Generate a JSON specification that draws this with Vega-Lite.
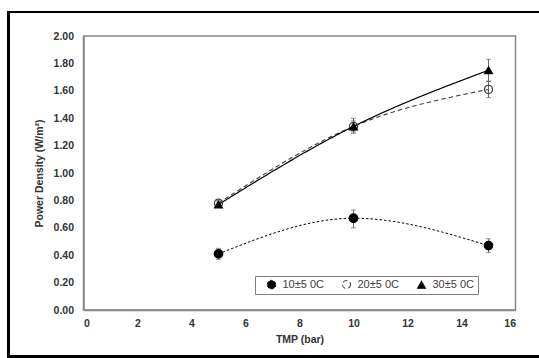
{
  "$schema": "https://vega.github.io/schema/vega-lite/v6.json",
  "width": 432,
  "height": 274,
  "autosize": {"type": "none"},
  "padding": {"left": 83.5, "top": 36, "right": 23.5, "bottom": 48},
  "background": "white",
  "config": {
    "view": {"stroke": "#868686", "strokeWidth": 1.5},
    "axis": {
      "labelFont": "Liberation Sans",
      "labelFontWeight": "bold",
      "labelFontSize": 10.5,
      "labelColor": "#333333",
      "titleFont": "Liberation Sans",
      "titleFontWeight": "bold",
      "titleFontSize": 10.5,
      "titleColor": "#333333",
      "ticks": false,
      "labelOverlap": false,
      "gridColor": "#e4e4e4",
      "gridWidth": 1,
      "domainColor": "#868686",
      "domainWidth": 1.5
    },
    "axisY": {"labelOverlap": false, "tickCount": 11}
  },
  "data": {
    "values": [
      {"tmp": 5, "pd": 0.41, "lo": 0.37, "hi": 0.45, "s": "10±5 0C"},
      {"tmp": 10, "pd": 0.67, "lo": 0.60, "hi": 0.73, "s": "10±5 0C"},
      {"tmp": 15, "pd": 0.47, "lo": 0.42, "hi": 0.52, "s": "10±5 0C"},
      {"tmp": 5, "pd": 0.78, "lo": 0.76, "hi": 0.80, "s": "20±5 0C"},
      {"tmp": 10, "pd": 1.34, "lo": 1.30, "hi": 1.38, "s": "20±5 0C"},
      {"tmp": 15, "pd": 1.61, "lo": 1.55, "hi": 1.67, "s": "20±5 0C"},
      {"tmp": 5, "pd": 0.77, "lo": 0.75, "hi": 0.79, "s": "30±5 0C"},
      {"tmp": 10, "pd": 1.34, "lo": 1.29, "hi": 1.40, "s": "30±5 0C"},
      {"tmp": 15, "pd": 1.75, "lo": 1.67, "hi": 1.83, "s": "30±5 0C"}
    ]
  },
  "layer": [
    {
      "mark": {"type": "rect", "fill": null, "stroke": "black", "strokeWidth": 2, "clip": false},
      "encoding": {
        "x": {"datum": -2.78, "type": "quantitative", "scale": {"domain": [0, 16], "nice": false},
          "axis": {"values": [0, 2, 4, 6, 8, 10, 12, 14, 16], "title": "TMP (bar)", "labelPadding": 8, "titlePadding": 6, "labelOverlap": false}},
        "x2": {"datum": 18.5},
        "y": {"datum": 2.175, "type": "quantitative", "scale": {"domain": [0, 2], "nice": false},
          "axis": {"values": [0, 0.2, 0.4, 0.6, 0.8, 1.0, 1.2, 1.4, 1.6, 1.8, 2.0], "format": ".2f", "title": "Power Density (W/m²)", "labelPadding": 10, "titlePadding": 9, "labelOverlap": false}},
        "y2": {"datum": -0.339}
      }
    },
    {
      "mark": {"type": "errorbar", "ticks": {"size": 5, "color": "#666666"}, "rule": {"color": "#666666", "strokeWidth": 1}},
      "encoding": {
        "x": {"field": "tmp", "type": "quantitative", "title": "TMP (bar)"},
        "y": {"field": "lo", "type": "quantitative", "title": "Power Density (W/m²)"},
        "y2": {"field": "hi"}
      }
    },
    {
      "mark": {"type": "line", "interpolate": "monotone"},
      "encoding": {
        "x": {"field": "tmp", "type": "quantitative", "title": "TMP (bar)"},
        "y": {"field": "pd", "type": "quantitative", "title": "Power Density (W/m²)"},
        "color": {"field": "s", "type": "nominal", "scale": {"domain": ["10±5 0C", "20±5 0C", "30±5 0C"], "range": ["#000000", "#404040", "#000000"]},
          "legend": {
            "title": " ",
            "titleOrient": "left",
            "titlePadding": 8,
            "orient": "none",
            "legendX": 171.5,
            "legendY": 240,
            "direction": "horizontal",
            "padding": 3,
            "strokeColor": "#808080",
            "fillColor": "white",
            "symbolSize": 121,
            "symbolStrokeWidth": 1,
            "labelOffset": 5.5,
            "columnPadding": 15,
            "labelFont": "Liberation Sans",
            "labelFontSize": 11,
            "labelColor": "#404040",
            "labelExpr": "datum.label == '30±5 0C' ? datum.label + '\u00a0\u00a0\u00a0\u00a0' : datum.label",
            "encode": {
              "symbols": {
                "update": {
                  "shape": {"signal": "datum.value == '10±5 0C' ? 'M-1.82,0H-1.1M1.1,0H1.82M-0.64,0A0.64,0.64 0 1,1 0.64,0A0.64,0.64 0 1,1 -0.64,0Z' : datum.value == '20±5 0C' ? 'M-1.82,0H-1.0M-0.6,0H0.6M1.0,0H1.82M-0.6,0A0.6,0.6 0 1,1 0.6,0A0.6,0.6 0 1,1 -0.6,0Z' : 'M-1.82,0H1.82M-0.85,0.5L0,-0.75L0.85,0.5Z'"},
                  "fill": {"signal": "datum.value == '20±5 0C' ? 'transparent' : 'black'"},
                  "stroke": {"signal": "datum.value == '20±5 0C' ? '#404040' : 'black'"},
                  "strokeDash": {"value": [1, 0]},
                  "strokeWidth": {"value": 1},
                  "size": {"value": 121},
                  "opacity": {"value": 1}
                }
              }
            }
          }
        },
        "strokeWidth": {"field": "s", "type": "nominal", "scale": {"domain": ["10±5 0C", "20±5 0C", "30±5 0C"], "range": [1, 1.2, 1.25]}},
        "strokeDash": {"field": "s", "type": "nominal",
          "scale": {"domain": ["10±5 0C", "20±5 0C", "30±5 0C"], "range": [[2.5, 2], [4.5, 3], [1, 0]]}}
      }
    },
    {
      "mark": {"type": "point", "filled": false, "strokeWidth": 1.25, "opacity": 1},
      "encoding": {
        "x": {"field": "tmp", "type": "quantitative", "title": "TMP (bar)"},
        "y": {"field": "pd", "type": "quantitative", "title": "Power Density (W/m²)"},
        "color": {"field": "s", "type": "nominal"},
        "shape": {"field": "s", "type": "nominal", "scale": {"domain": ["10±5 0C", "20±5 0C", "30±5 0C"], "range": ["circle", "circle", "triangle-up"]}},
        "fill": {"field": "s", "type": "nominal", "scale": {"domain": ["10±5 0C", "20±5 0C", "30±5 0C"], "range": ["#000000", "transparent", "#000000"]}},
        "size": {"field": "s", "type": "nominal", "scale": {"domain": ["10±5 0C", "20±5 0C", "30±5 0C"], "range": [72, 60, 45]}}
      }
    }
  ]
}
